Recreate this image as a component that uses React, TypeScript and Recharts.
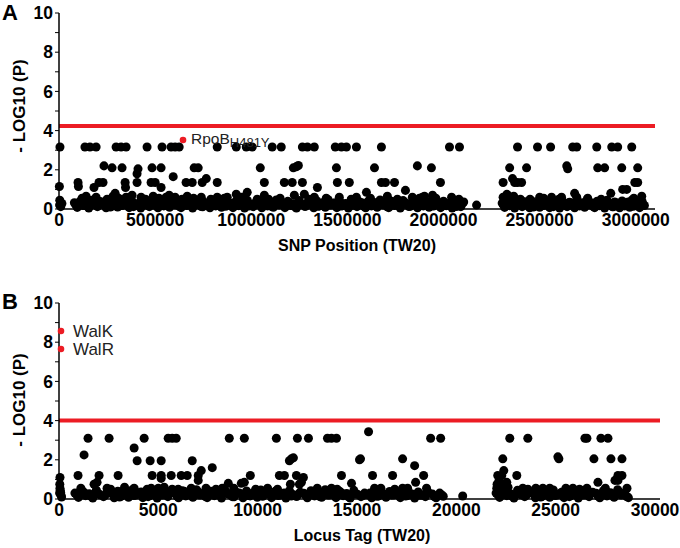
import { ScatterChart, Scatter, XAxis, YAxis, ZAxis, ReferenceLine } from "recharts";

type Pt = [number, number];

const FONT = '"Liberation Sans", Arial, sans-serif';
const RED = "#ec1c24";

// ---------- Panel A: SNP position (TW20) vs -log10(P) ----------
const aTicksX = [0, 500000, 1000000, 1500000, 2000000, 2500000, 3000000];
const aThreshold = 4.24;

const aTopRow: Pt[] = [
  [5000, 3.16], [135000, 3.16], [161000, 3.16], [193000, 3.16], [297000, 3.16], [323000, 3.16],
  [349000, 3.16], [458000, 3.16], [536000, 3.16], [583000, 3.16], [604000, 3.16], [625000, 3.16],
  [823000, 3.16], [922000, 3.16], [974000, 3.16], [1005000, 3.16], [1109000, 3.16], [1156000, 3.16],
  [1266000, 3.16], [1292000, 3.16], [1328000, 3.16], [1437000, 3.16], [1469000, 3.16], [1495000, 3.16],
  [1547000, 3.16], [1677000, 3.16], [2031000, 3.16], [2083000, 3.16], [2385000, 3.16], [2489000, 3.16],
  [2557000, 3.16], [2672000, 3.16], [2693000, 3.16], [2797000, 3.16], [2875000, 3.16], [2906000, 3.16],
  [2979000, 3.16],
];

const aMidRows: Pt[] = [
  [234000, 2.2], [276000, 2.1], [328000, 2.1], [411000, 2.05], [406000, 1.8], [484000, 2.1],
  [531000, 2.1], [594000, 1.65], [703000, 2.1], [724000, 2.1], [1047000, 2.1], [1219000, 2.1],
  [1234000, 2.15], [1245000, 2.22], [1443000, 2.1], [1641000, 2.1], [1864000, 2.2], [1937000, 2.1],
  [2344000, 2.1], [2432000, 2.1], [2641000, 2.2], [2646000, 2.05], [2802000, 2.1], [2838000, 2.1],
  [2927000, 2.1], [3010000, 2.1],
  [2000, 1.15], [99000, 1.35], [101000, 1.15], [182000, 1.1], [208000, 1.35], [229000, 1.35],
  [344000, 1.35], [346000, 1.1], [406000, 1.35], [479000, 1.35], [500000, 1.35], [531000, 1.1],
  [661000, 1.35], [693000, 1.35], [745000, 1.35], [766000, 1.55], [823000, 1.35], [1068000, 1.35],
  [1172000, 1.35], [1213000, 1.35], [1266000, 1.35], [1344000, 1.1], [1448000, 1.35], [1510000, 1.35],
  [1677000, 1.35], [1698000, 1.35], [1745000, 1.35], [1984000, 1.35], [2310000, 1.35], [2359000, 1.55],
  [2370000, 1.35], [2385000, 1.35], [2406000, 1.35], [2995000, 1.35], [3010000, 1.35],
];

const aLowRows: Pt[] = [
  [4000, 0.45], [8000, 0.3], [141000, 0.65], [193000, 0.6], [281000, 0.65], [292000, 0.8],
  [349000, 0.6], [427000, 0.6], [490000, 0.65], [557000, 0.6], [573000, 0.7], [604000, 0.6],
  [667000, 0.65], [740000, 0.6], [823000, 0.6], [875000, 0.6], [922000, 0.75], [979000, 0.85],
  [1031000, 0.5], [1068000, 0.7], [1224000, 0.7], [1276000, 0.75], [1328000, 0.6], [1458000, 0.6],
  [1547000, 0.6], [1599000, 0.85], [1708000, 0.65], [1802000, 0.95], [1838000, 0.6], [1875000, 0.55],
  [1890000, 0.6], [1901000, 0.65], [1943000, 0.7], [2042000, 0.6], [2172000, 0.2], [2500000, 0.6],
  [2521000, 0.55], [2562000, 0.6], [2614000, 0.6], [2682000, 0.8], [2693000, 0.6], [2870000, 0.8],
  [2932000, 1.0], [2953000, 1.0], [3031000, 0.65], [2310000, 0.6], [2330000, 0.75], [2340000, 0.55],
  [2365000, 0.65], [2400000, 0.5],
  [120000, 0.55], [250000, 0.5], [310000, 0.55], [380000, 0.7], [450000, 0.5], [520000, 0.55],
  [640000, 0.5], [700000, 0.55], [790000, 0.5], [860000, 0.55], [950000, 0.6], [1090000, 0.5],
  [1150000, 0.55], [1300000, 0.5], [1390000, 0.55], [1520000, 0.5], [1620000, 0.55], [1760000, 0.5],
  [1960000, 0.55], [2080000, 0.5], [2450000, 0.5], [2600000, 0.5], [2750000, 0.55], [2820000, 0.5],
  [2990000, 0.55],
];

const aDenseBand: Pt[] = [
  [3000, 0.2], [9000, 0.12], [15000, 0.28],
  [80000, 0.32], [95000, 0.08], [110000, 0.4], [125000, 0.18], [140000, 0.3], [155000, 0.05],
  [170000, 0.45], [185000, 0.22], [200000, 0.12], [215000, 0.38], [230000, 0.27], [245000, 0.06],
  [260000, 0.42], [275000, 0.15], [290000, 0.33], [305000, 0.1], [320000, 0.47], [335000, 0.2],
  [350000, 0.3], [365000, 0.07], [380000, 0.4], [395000, 0.17], [410000, 0.28], [425000, 0.05],
  [440000, 0.44], [455000, 0.24], [470000, 0.12], [485000, 0.36], [500000, 0.3], [515000, 0.06],
  [530000, 0.41], [545000, 0.16], [560000, 0.33], [575000, 0.09], [590000, 0.46], [605000, 0.21],
  [620000, 0.3], [635000, 0.07], [650000, 0.39], [665000, 0.18], [680000, 0.27], [695000, 0.05],
  [710000, 0.43], [725000, 0.23], [740000, 0.13], [755000, 0.35], [770000, 0.29], [785000, 0.06],
  [800000, 0.42], [815000, 0.16], [830000, 0.32], [845000, 0.09], [860000, 0.47], [875000, 0.2],
  [890000, 0.3], [905000, 0.07], [920000, 0.4], [935000, 0.17], [950000, 0.28], [965000, 0.05],
  [980000, 0.44], [995000, 0.24], [1010000, 0.12], [1025000, 0.36], [1040000, 0.3], [1055000, 0.06],
  [1070000, 0.41], [1085000, 0.16], [1100000, 0.33], [1115000, 0.09], [1130000, 0.46], [1145000, 0.21],
  [1160000, 0.3], [1175000, 0.07], [1190000, 0.39], [1205000, 0.18], [1220000, 0.27], [1235000, 0.05],
  [1250000, 0.43], [1265000, 0.23], [1280000, 0.13], [1295000, 0.35], [1310000, 0.29], [1325000, 0.06],
  [1340000, 0.42], [1355000, 0.16], [1370000, 0.32], [1385000, 0.09], [1400000, 0.47], [1415000, 0.2],
  [1430000, 0.3], [1445000, 0.07], [1460000, 0.4], [1475000, 0.17], [1490000, 0.28], [1505000, 0.05],
  [1520000, 0.44], [1535000, 0.24], [1550000, 0.12], [1565000, 0.36], [1580000, 0.3], [1595000, 0.06],
  [1610000, 0.41], [1625000, 0.16], [1640000, 0.33], [1655000, 0.09], [1670000, 0.46], [1685000, 0.21],
  [1700000, 0.3], [1715000, 0.07], [1730000, 0.39], [1745000, 0.18], [1760000, 0.27], [1775000, 0.05],
  [1790000, 0.43], [1805000, 0.23], [1820000, 0.13], [1835000, 0.35], [1850000, 0.29], [1865000, 0.06],
  [1880000, 0.42], [1895000, 0.16], [1910000, 0.32], [1925000, 0.09], [1940000, 0.47], [1955000, 0.2],
  [1970000, 0.3], [1985000, 0.07], [2000000, 0.4], [2015000, 0.17], [2030000, 0.28], [2045000, 0.05],
  [2060000, 0.44], [2075000, 0.24], [2090000, 0.12], [2105000, 0.36],
  [2305000, 0.3], [2318000, 0.08], [2331000, 0.42], [2344000, 0.17], [2357000, 0.27], [2370000, 0.05],
  [2383000, 0.45], [2396000, 0.22], [2409000, 0.12], [2422000, 0.37], [2435000, 0.3], [2448000, 0.06],
  [2461000, 0.4], [2474000, 0.15], [2487000, 0.33], [2500000, 0.09], [2513000, 0.46], [2526000, 0.2],
  [2539000, 0.3], [2552000, 0.07], [2565000, 0.39], [2578000, 0.18], [2591000, 0.27], [2604000, 0.05],
  [2617000, 0.43], [2630000, 0.23], [2643000, 0.12], [2656000, 0.35], [2669000, 0.29], [2682000, 0.06],
  [2695000, 0.42], [2708000, 0.16], [2721000, 0.32], [2734000, 0.09], [2747000, 0.47], [2760000, 0.2],
  [2773000, 0.3], [2786000, 0.07], [2799000, 0.4], [2812000, 0.17], [2825000, 0.28], [2838000, 0.05],
  [2851000, 0.44], [2864000, 0.24], [2877000, 0.12], [2890000, 0.36], [2903000, 0.3], [2916000, 0.06],
  [2929000, 0.41], [2942000, 0.16], [2955000, 0.33], [2968000, 0.09], [2981000, 0.46], [2994000, 0.21],
  [3007000, 0.3], [3020000, 0.07], [3033000, 0.39], [3045000, 0.18],
];

const aDenseFill: Pt[] = [
  [87000, 0.22], [117000, 0.35], [147000, 0.14], [177000, 0.28], [207000, 0.2], [237000, 0.33],
  [267000, 0.1], [297000, 0.25], [327000, 0.18], [357000, 0.36], [387000, 0.12], [417000, 0.26],
  [447000, 0.2], [477000, 0.31], [507000, 0.15], [537000, 0.24], [567000, 0.19], [597000, 0.34],
  [627000, 0.13], [657000, 0.27], [687000, 0.2], [717000, 0.32], [747000, 0.11], [777000, 0.25],
  [807000, 0.18], [837000, 0.36], [867000, 0.14], [897000, 0.26], [927000, 0.21], [957000, 0.31],
  [987000, 0.15], [1017000, 0.24], [1047000, 0.19], [1077000, 0.34], [1107000, 0.13], [1137000, 0.27],
  [1167000, 0.2], [1197000, 0.32], [1227000, 0.11], [1257000, 0.25], [1287000, 0.18], [1317000, 0.36],
  [1347000, 0.14], [1377000, 0.26], [1407000, 0.21], [1437000, 0.31], [1467000, 0.15], [1497000, 0.24],
  [1527000, 0.19], [1557000, 0.34], [1587000, 0.13], [1617000, 0.27], [1647000, 0.2], [1677000, 0.32],
  [1707000, 0.11], [1737000, 0.25], [1767000, 0.18], [1797000, 0.36], [1827000, 0.14], [1857000, 0.26],
  [1887000, 0.21], [1917000, 0.31], [1947000, 0.15], [1977000, 0.24], [2007000, 0.19], [2037000, 0.34],
  [2067000, 0.13], [2097000, 0.27],
  [2311000, 0.22], [2337000, 0.35], [2363000, 0.14], [2389000, 0.28], [2415000, 0.2], [2441000, 0.33],
  [2467000, 0.1], [2493000, 0.25], [2519000, 0.18], [2545000, 0.36], [2571000, 0.12], [2597000, 0.26],
  [2623000, 0.2], [2649000, 0.31], [2675000, 0.15], [2701000, 0.24], [2727000, 0.19], [2753000, 0.34],
  [2779000, 0.13], [2805000, 0.27], [2831000, 0.2], [2857000, 0.32], [2883000, 0.11], [2909000, 0.25],
  [2935000, 0.18], [2961000, 0.36], [2987000, 0.14], [3013000, 0.26], [3039000, 0.21],
];

const aHighlighted = [{ x: 645000, y: 3.52, name: "RpoB", sub: "H481Y" }];

// ---------- Panel B: locus tag (TW20) vs -log10(P) ----------
const bTicksX = [0, 5000, 10000, 15000, 20000, 25000, 30000];
const bThreshold = 4.0;

const bTopRow: Pt[] = [
  [1462, 3.1], [2521, 3.1], [4286, 3.1], [5496, 3.1], [5697, 3.1], [5899, 3.1], [8571, 3.1],
  [9328, 3.1], [10941, 3.1], [12000, 3.1], [12555, 3.1], [13513, 3.1], [13714, 3.1], [13966, 3.1],
  [18706, 3.1], [19210, 3.1], [22689, 3.1], [23597, 3.1], [26471, 3.1], [26571, 3.1], [27277, 3.1],
  [27630, 3.1], [15580, 3.43],
];

const bMidRows: Pt[] = [
  [3782, 2.6], [1261, 2.25], [3933, 1.95], [4588, 1.95], [5143, 1.95], [6706, 1.95], [7160, 1.45],
  [958, 1.2], [2017, 1.2], [2975, 1.2], [4689, 1.2], [5143, 1.2], [5647, 1.2], [6151, 1.2],
  [6454, 1.2], [7008, 1.2], [5143, 1.05], [7008, 0.95], [50, 1.1],
  [11597, 1.95], [11697, 2.05], [11798, 2.1], [7714, 1.6], [15126, 2.0], [9630, 1.2], [11092, 1.2],
  [11345, 1.2], [11950, 1.2], [14218, 1.2], [12302, 1.1], [15176, 2.05], [17294, 2.05], [22336, 2.05],
  [17899, 1.7], [15781, 1.2], [16790, 1.2], [18353, 1.2], [22084, 1.2], [22286, 1.2], [22387, 1.45],
  [25160, 2.05], [25110, 2.15], [26924, 2.05], [27781, 2.05], [28336, 2.05], [23042, 1.2],
  [28134, 1.2], [28336, 1.2],
];

const bLowRows: Pt[] = [
  [30, 0.3], [100, 0.2], [60, 0.45], [130, 0.1], [50, 0.55], [80, 0.35], [40, 0.75],
  [1765, 0.75], [1916, 0.85], [2420, 0.55], [3782, 0.55], [4437, 0.5], [4639, 0.55], [5294, 0.6],
  [5697, 0.5], [6303, 0.4], [6655, 0.55], [6958, 0.4], [12202, 0.85], [12101, 0.75], [9328, 0.85],
  [9176, 0.8], [8521, 0.8], [8218, 0.55], [11647, 0.75], [14723, 0.8], [13714, 0.55], [17950, 0.85],
  [22538, 0.85], [15882, 0.55], [17294, 0.55], [17546, 0.55], [22034, 0.55], [20319, 0.15],
  [27983, 0.95], [28134, 0.95], [27126, 0.85], [23344, 0.55], [24000, 0.55], [24353, 0.55],
  [25513, 0.55], [25866, 0.55], [26571, 0.55], [28588, 0.55], [22050, 0.75], [22150, 0.95],
  [22300, 0.65], [22450, 0.7], [22600, 0.6],
  [1100, 0.55], [2600, 0.5], [3300, 0.6], [5000, 0.55], [6000, 0.5], [7400, 0.55], [7900, 0.5],
  [8800, 0.55], [9900, 0.5], [10500, 0.55], [11000, 0.5], [13000, 0.55], [14000, 0.5], [16200, 0.55],
  [16900, 0.5], [18500, 0.55], [23600, 0.5], [24700, 0.55], [26200, 0.5], [27500, 0.55],
];

const bDenseBand: Pt[] = [
  [800, 0.3], [980, 0.08], [1160, 0.42], [1340, 0.17], [1520, 0.27], [1700, 0.05], [1880, 0.45],
  [2060, 0.22], [2240, 0.12], [2420, 0.37], [2600, 0.3], [2780, 0.06], [2960, 0.4], [3140, 0.15],
  [3320, 0.33], [3500, 0.09], [3680, 0.46], [3860, 0.2], [4040, 0.3], [4220, 0.07], [4400, 0.39],
  [4580, 0.18], [4760, 0.27], [4940, 0.05], [5120, 0.43], [5300, 0.23], [5480, 0.12], [5660, 0.35],
  [5840, 0.29], [6020, 0.06], [6200, 0.42], [6380, 0.16], [6560, 0.32], [6740, 0.09], [6920, 0.47],
  [7100, 0.2], [7280, 0.3], [7460, 0.07], [7640, 0.4], [7820, 0.17], [8000, 0.28], [8180, 0.05],
  [8360, 0.44], [8540, 0.24], [8720, 0.12], [8900, 0.36], [9080, 0.3], [9260, 0.06], [9440, 0.41],
  [9620, 0.16], [9800, 0.33], [9980, 0.09], [10160, 0.46], [10340, 0.21], [10520, 0.3], [10700, 0.07],
  [10880, 0.39], [11060, 0.18], [11240, 0.27], [11420, 0.05], [11600, 0.43], [11780, 0.23],
  [11960, 0.13], [12140, 0.35], [12320, 0.29], [12500, 0.06], [12680, 0.42], [12860, 0.16],
  [13040, 0.32], [13220, 0.09], [13400, 0.47], [13580, 0.2], [13760, 0.3], [13940, 0.07],
  [14120, 0.4], [14300, 0.17], [14480, 0.28], [14660, 0.05], [14840, 0.44], [15020, 0.24],
  [15200, 0.12], [15380, 0.3], [15560, 0.22], [15740, 0.06], [15920, 0.35], [16100, 0.16],
  [16280, 0.28], [16460, 0.09], [16640, 0.38], [16820, 0.2], [17000, 0.3], [17180, 0.07],
  [17360, 0.33], [17540, 0.18], [17720, 0.27], [17900, 0.05], [18080, 0.36], [18260, 0.21],
  [18440, 0.12], [18620, 0.31], [18800, 0.25], [18980, 0.06], [19160, 0.3], [19340, 0.14],
  [22000, 0.3], [22180, 0.08], [22360, 0.42], [22540, 0.17], [22720, 0.27], [22900, 0.05],
  [23080, 0.45], [23260, 0.22], [23440, 0.12], [23620, 0.37], [23800, 0.3], [23980, 0.06],
  [24160, 0.4], [24340, 0.15], [24520, 0.33], [24700, 0.09], [24880, 0.46], [25060, 0.2],
  [25240, 0.3], [25420, 0.07], [25600, 0.39], [25780, 0.18], [25960, 0.27], [26140, 0.05],
  [26320, 0.43], [26500, 0.23], [26680, 0.12], [26860, 0.35], [27040, 0.29], [27220, 0.06],
  [27400, 0.42], [27580, 0.16], [27760, 0.32], [27940, 0.09], [28120, 0.47], [28300, 0.2],
  [28480, 0.3], [28660, 0.07],
];

const bDenseFill: Pt[] = [
  [890, 0.22], [1250, 0.35], [1610, 0.14], [1970, 0.28], [2330, 0.2], [2690, 0.33], [3050, 0.1],
  [3410, 0.25], [3770, 0.18], [4130, 0.36], [4490, 0.12], [4850, 0.26], [5210, 0.2], [5570, 0.31],
  [5930, 0.15], [6290, 0.24], [6650, 0.19], [7010, 0.34], [7370, 0.13], [7730, 0.27], [8090, 0.2],
  [8450, 0.32], [8810, 0.11], [9170, 0.25], [9530, 0.18], [9890, 0.36], [10250, 0.14], [10610, 0.26],
  [10970, 0.21], [11330, 0.31], [11690, 0.15], [12050, 0.24], [12410, 0.19], [12770, 0.34],
  [13130, 0.13], [13490, 0.27], [13850, 0.2], [14210, 0.32], [14570, 0.11], [14930, 0.25],
  [15290, 0.18], [15650, 0.3], [16010, 0.14], [16370, 0.26], [16730, 0.21], [17090, 0.28],
  [17450, 0.15], [17810, 0.24], [18170, 0.19], [18530, 0.3], [18890, 0.13], [19250, 0.22],
  [22090, 0.22], [22450, 0.35], [22810, 0.14], [23170, 0.28], [23530, 0.2], [23890, 0.33],
  [24250, 0.1], [24610, 0.25], [24970, 0.18], [25330, 0.36], [25690, 0.12], [26050, 0.26],
  [26410, 0.2], [26770, 0.31], [27130, 0.15], [27490, 0.24], [27850, 0.19], [28210, 0.34],
  [28570, 0.13],
];

const bHighlighted = [
  { x: 100, y: 8.57, name: "WalK", sub: "" },
  { x: 100, y: 7.65, name: "WalR", sub: "" },
];

const yTicks = [0, 1, 2, 3, 4, 5, 6, 7, 8, 9, 10];

const toPoints = (...sets: Pt[][]) =>
  sets.flat().map(([x, y]) => ({ x, y }));

const tickStyle = { fontSize: 17.5, fontWeight: 700, fill: "#000", fontFamily: FONT };
const axisLine = { stroke: "#000", strokeWidth: 1.5 };

const makeMarker = (dx: number, dy: number, fontSize: number) => (props: any) => {
  const { cx, cy, payload } = props;
  return (
    <g>
      <circle cx={cx} cy={cy} r={3.3} fill={RED} />
      <text x={cx + dx} y={cy + dy} fontSize={fontSize} fontFamily={FONT} fill="#222">
        {payload.name}
        {payload.sub ? (
          <tspan fontSize={13} dy={3}>
            {payload.sub}
          </tspan>
        ) : null}
      </text>
    </g>
  );
};

interface PanelProps {
  height: number;
  marginRight: number;
  marginBottom: number;
  domainX: [number, number];
  ticksX: number[];
  threshold: number;
  points: { x: number; y: number }[];
  highlighted: { x: number; y: number; name: string; sub: string }[];
  marker: (props: any) => JSX.Element;
}

function Panel(p: PanelProps) {
  return (
    <ScatterChart
      width={680}
      height={p.height}
      margin={{ top: 13, right: p.marginRight, bottom: p.marginBottom, left: 0 }}
    >
      <XAxis
        type="number"
        dataKey="x"
        domain={p.domainX}
        ticks={p.ticksX}
        interval={0}
        tickLine={false}
        tickSize={0}
        tickMargin={5}
        height={25}
        axisLine={axisLine}
        tick={tickStyle}
      />
      <YAxis
        type="number"
        dataKey="y"
        domain={[0, 10]}
        ticks={yTicks}
        interval={0}
        width={59}
        tickSize={4}
        tickMargin={2}
        tickLine={{ stroke: "#000", strokeWidth: 1 }}
        axisLine={axisLine}
        tick={tickStyle}
        tickFormatter={(v: number) => (v % 2 === 0 ? String(v) : "")}
      />
      <ZAxis range={[38, 38]} />
      <ReferenceLine y={p.threshold} stroke={RED} strokeWidth={4} />
      <Scatter data={p.points} fill="#000" isAnimationActive={false} />
      <Scatter data={p.highlighted} fill={RED} shape={p.marker} isAnimationActive={false} />
    </ScatterChart>
  );
}

export default function App() {
  const titleStyle = { fontFamily: FONT, fontWeight: 700, fill: "#000" } as const;
  return (
    <div style={{ position: "absolute", left: 0, top: 0, width: 680, height: 548, background: "#fff" }}>
      <div style={{ position: "absolute", left: 0, top: 0 }}>
        <Panel
          height={270}
          marginRight={25}
          marginBottom={36}
          domainX={[0, 3100000]}
          ticksX={aTicksX}
          threshold={aThreshold}
          points={toPoints(aTopRow, aMidRows, aLowRows, aDenseBand, aDenseFill)}
          highlighted={aHighlighted}
          marker={makeMarker(8, 4, 15.5)}
        />
      </div>
      <div style={{ position: "absolute", left: 0, top: 290 }}>
        <Panel
          height={258}
          marginRight={20}
          marginBottom={24}
          domainX={[0, 30250]}
          ticksX={bTicksX}
          threshold={bThreshold}
          points={toPoints(bTopRow, bMidRows, bLowRows, bDenseBand, bDenseFill)}
          highlighted={bHighlighted}
          marker={makeMarker(12, 6, 17)}
        />
      </div>
      <svg
        width={680}
        height={548}
        style={{ position: "absolute", left: 0, top: 0, pointerEvents: "none" }}
      >
        <text x={2} y={20} fontSize={22} {...titleStyle}>A</text>
        <text x={2} y={309} fontSize={22} {...titleStyle}>B</text>
        <text
          x={19}
          y={106}
          fontSize={17}
          textAnchor="middle"
          dominantBaseline="central"
          transform="rotate(-90 19 106)"
          {...titleStyle}
        >
          - LOG10 (P)
        </text>
        <text
          x={19}
          y={400}
          fontSize={17}
          textAnchor="middle"
          dominantBaseline="central"
          transform="rotate(-90 19 400)"
          {...titleStyle}
        >
          - LOG10 (P)
        </text>
        <text x={357} y={251} fontSize={16} textAnchor="middle" {...titleStyle}>
          SNP Position (TW20)
        </text>
        <text x={362} y={541} fontSize={16} textAnchor="middle" {...titleStyle}>
          Locus Tag (TW20)
        </text>
      </svg>
    </div>
  );
}
